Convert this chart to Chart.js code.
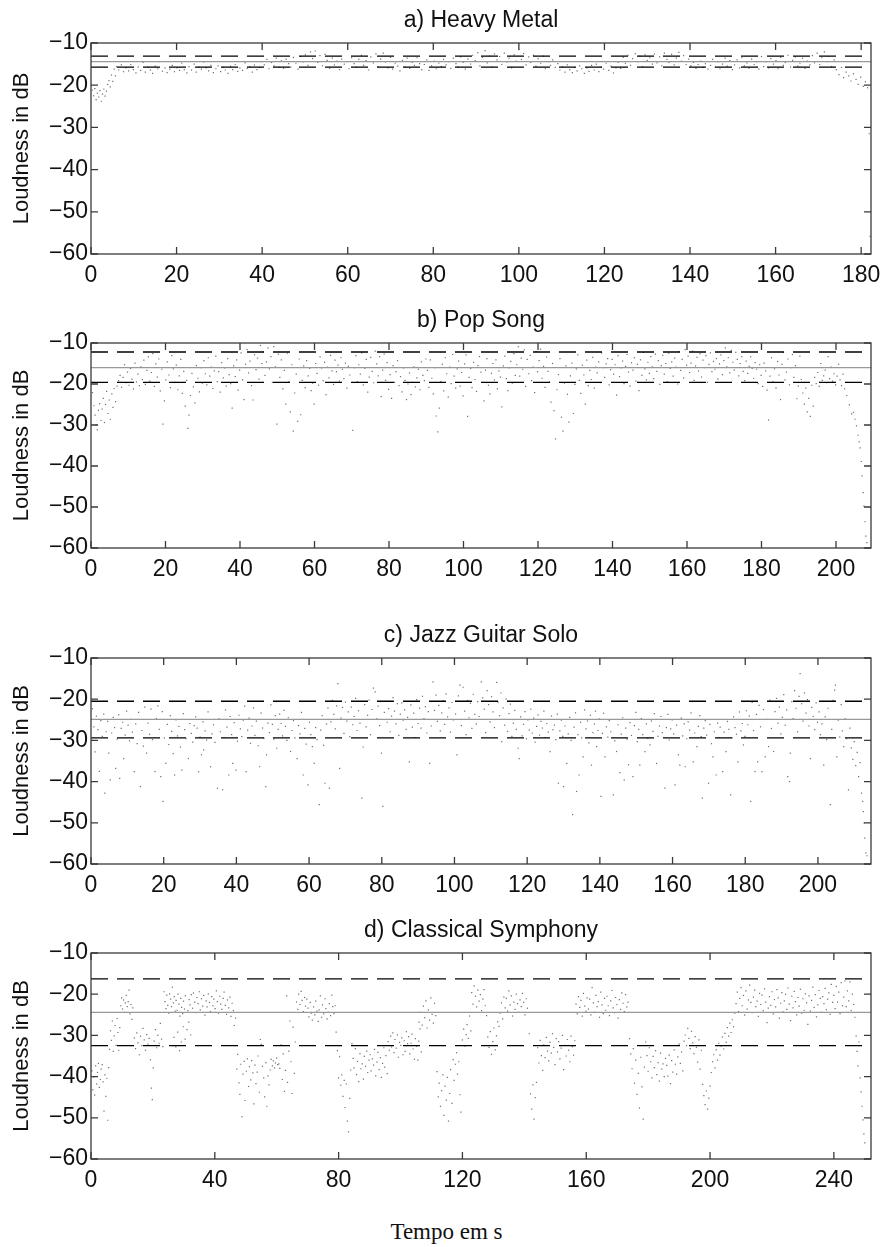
<!DOCTYPE html>
<html>
<head>
<meta charset="utf-8">
<script src="https://cdn.jsdelivr.net/npm/chart.js@4.4.0/dist/chart.umd.min.js"></script>
<style>
body { margin: 0; background: #fff; }
#page { position: relative; width: 884px; height: 1247px; }
.panel { position: absolute; left: 0; width: 884px; }
#xlabel { position: absolute; left: 340px; width: 213px; top: 1220px; text-align: center;
  font: 23px/23px "Liberation Serif", "Times New Roman", serif; color: #111; }
</style>
</head>
<body>
<div id="page">
  <div class="panel" style="top:0px;height:289px"><canvas id="c0"></canvas></div>
  <div class="panel" style="top:300px;height:283px"><canvas id="c1"></canvas></div>
  <div class="panel" style="top:615px;height:284px"><canvas id="c2"></canvas></div>
  <div class="panel" style="top:910px;height:284px"><canvas id="c3"></canvas></div>
  <div id="xlabel">Tempo em s</div>
</div>
<script>
// panel settings
const panelTitles = ['a) Heavy Metal', 'b) Pop Song', 'c) Jazz Guitar Solo', 'd) Classical Symphony'];
const xMaxima = [182.3, 209.4, 214.6, 252];
const xSteps = [20, 20, 20, 40];
const yRange = [-60, -10];

// mean, mean + std, mean - std (dB)
const metalLines = [-14.4, -13.1, -15.7];
const popLines = [-16.0, -12.2, -19.6];
const jazzLines = [-24.9, -20.5, -29.4];
const classicLines = [-24.4, -16.3, -32.5];

// [time s, loudness dB]
const metalPoints = [
[0.3,-21.2],[0.6,-22.5],[0.9,-20.8],[1.2,-23.4],[1.5,-21.9],[1.8,-22.8],[2.1,-21.3],[2.4,-23.8],[2.7,-22.1],[3.0,-20.9],[3.3,-22.6],[3.6,-21.4],[3.9,-19.8],
[4.2,-18.9],[4.5,-20.4],[4.8,-17.6],[5.1,-19.1],[5.4,-16.2],[5.7,-17.8],[6.0,-15.6],
[6.5,-16.4],[7.1,-15.2],[7.6,-16.8],[8.2,-15.9],[8.8,-16.6],[9.3,-15.1],[9.9,-16.3],[10.5,-17.1],[11.0,-15.7],[11.6,-16.5],[12.2,-14.6],[12.7,-16.9],[13.3,-15.8],[13.9,-16.4],[14.4,-17.2],[15.0,-15.5],[15.6,-16.1],[16.1,-14.4],[16.7,-16.7],[17.3,-15.9],[17.8,-17.0],[18.4,-16.2],[19.0,-15.3],[19.5,-16.8],[20.1,-15.9],[20.7,-16.5],[21.2,-14.8],[21.8,-16.3],[22.4,-17.1],[22.9,-15.6],[23.5,-16.4],[24.1,-15.0],[24.6,-16.9],[25.2,-15.7],[25.8,-16.2],[26.3,-14.5],[26.9,-15.9],[27.5,-16.6],[28.0,-15.3],[28.6,-17.0],[29.2,-16.1],[29.7,-15.4],[30.3,-16.8],[30.9,-15.8],[31.4,-16.4],[32.0,-17.2],[32.6,-15.5],[33.1,-16.3],[33.7,-15.1],[34.3,-16.7],[34.8,-15.9],[35.4,-16.5],[36.0,-14.7],[36.5,-16.0],[37.1,-15.6],[37.7,-16.9],[38.2,-15.2],[38.8,-16.3],[39.4,-15.8],[39.9,-14.4],
[40.5,-15.2],[41.1,-13.9],[41.6,-16.1],[42.2,-14.6],[42.8,-15.4],[43.3,-13.6],[43.9,-15.8],[44.5,-14.2],[45.0,-16.0],[45.6,-13.8],[46.2,-14.9],[46.7,-15.7],[47.3,-13.4],[47.9,-14.8],[48.4,-16.2],[49.0,-13.2],[49.6,-14.5],[50.1,-12.8],[50.7,-15.3],[51.3,-12.1],[51.8,-13.7],[52.4,-11.9],[53.0,-14.6],[53.5,-13.0],[54.1,-15.4],[54.7,-12.7],[55.2,-14.1],[55.8,-16.0],[56.4,-13.6],[56.9,-15.2],[57.5,-14.3],[58.1,-16.3],[58.6,-13.8],[59.2,-15.0],[59.8,-14.4],
[60.3,-16.1],[60.9,-13.5],[61.5,-14.9],[62.0,-15.8],[62.6,-13.9],[63.2,-12.9],[63.7,-15.3],[64.3,-14.2],[64.9,-16.4],[65.4,-13.3],[66.0,-14.7],[66.6,-12.6],[67.1,-15.6],[67.7,-13.8],[68.3,-12.4],[68.8,-14.5],[69.4,-15.9],[70.0,-13.4],[70.5,-16.2],[71.1,-14.8],[71.7,-15.5],[72.2,-16.6],[72.8,-14.1],[73.4,-15.7],[73.9,-13.6],[74.5,-16.0],[75.1,-14.6],[75.6,-15.3],[76.2,-13.5],[76.8,-14.9],[77.3,-16.3],[77.9,-15.1],[78.5,-14.0],[79.0,-16.5],[79.6,-15.4],
[80.2,-14.3],[80.7,-16.1],[81.3,-14.8],[81.9,-15.6],[82.4,-13.9],[83.0,-15.2],[83.6,-14.4],[84.1,-16.0],[84.7,-13.6],[85.3,-14.9],[85.8,-15.7],[86.4,-13.3],[87.0,-14.6],[87.5,-16.2],[88.1,-13.8],[88.7,-15.0],[89.2,-12.9],[89.8,-14.2],[90.4,-12.3],[90.9,-15.4],[91.5,-13.4],[92.1,-11.8],[92.6,-14.7],[93.2,-13.1],[93.8,-15.8],[94.3,-12.6],[94.9,-14.0],[95.5,-13.2],[96.0,-15.1],[96.6,-12.4],[97.2,-14.5],[97.7,-13.6],[98.3,-15.9],[98.9,-12.8],[99.4,-14.3],
[100.0,-11.6],[100.6,-13.9],[101.1,-12.5],[101.7,-15.2],[102.3,-13.3],[102.8,-14.6],[103.4,-12.9],[104.0,-15.5],[104.5,-13.7],[105.1,-14.8],[105.7,-13.1],[106.2,-16.1],[106.8,-14.4],[107.4,-15.3],[107.9,-14.0],[108.5,-15.8],[109.1,-14.9],[109.6,-16.4],
[110.2,-15.6],[110.8,-16.9],[111.3,-15.2],[111.9,-16.3],[112.5,-17.0],[113.0,-15.8],[113.6,-16.6],[114.2,-15.4],[114.7,-16.1],[115.3,-17.2],[115.9,-15.9],[116.4,-16.7],[117.0,-15.3],[117.6,-16.4],[118.1,-15.0],[118.7,-16.8],[119.3,-15.7],[119.8,-16.2],[120.4,-14.8],[121.0,-16.5],[121.5,-15.5],[122.1,-17.1],[122.7,-15.9],[123.2,-14.6],[123.8,-16.0],
[124.4,-13.4],[124.9,-14.8],[125.5,-12.9],[126.1,-15.3],[126.6,-13.7],[127.2,-12.5],[127.8,-14.4],[128.3,-13.1],[128.9,-15.6],[129.5,-12.8],[130.0,-14.1],[130.6,-13.5],[131.2,-15.0],[131.7,-12.6],[132.3,-14.7],[132.9,-13.3],[133.4,-15.4],[134.0,-12.4],[134.6,-13.9],[135.1,-14.6],[135.7,-12.7],[136.3,-15.2],[136.8,-13.6],[137.4,-12.2],[138.0,-14.3],[138.5,-13.0],[139.1,-15.1],[139.7,-13.8],
[140.2,-15.4],[140.8,-14.6],[141.4,-16.0],[141.9,-15.1],[142.5,-14.3],[143.1,-15.8],[143.6,-14.9],[144.2,-16.2],[144.8,-15.3],[145.3,-13.9],[145.9,-15.7],[146.5,-14.5],[147.0,-16.1],[147.6,-15.0],[148.2,-13.6],[148.7,-15.5],[149.3,-14.2],[149.9,-16.3],[150.4,-15.2],[151.0,-14.0],[151.6,-15.9],[152.1,-13.5],[152.7,-15.4],[153.3,-14.7],[153.8,-16.0],[154.4,-13.8],[155.0,-15.1],[155.5,-14.4],[156.1,-16.2],[156.7,-13.2],[157.2,-15.6],[157.8,-14.5],[158.4,-15.9],[158.9,-13.7],[159.5,-15.0],
[160.1,-14.2],[160.6,-16.1],[161.2,-13.4],[161.8,-15.3],[162.3,-14.6],[162.9,-12.9],[163.5,-15.7],[164.0,-14.1],[164.6,-13.3],[165.2,-15.5],[165.7,-14.8],[166.3,-13.6],[166.9,-16.0],[167.4,-14.3],[168.0,-15.2],[168.6,-13.0],[169.1,-14.7],[169.7,-12.4],[170.3,-15.1],[170.8,-13.5],[171.4,-12.1],[172.0,-14.4],[172.5,-13.2],[173.1,-15.6],[173.7,-14.0],
[174.2,-16.3],[174.8,-17.5],[175.4,-15.8],[175.9,-18.2],[176.5,-16.9],[177.1,-17.8],[177.6,-19.0],[178.2,-17.3],[178.8,-18.6],[179.3,-19.8],[179.9,-18.1],[180.5,-20.3],[181.0,-19.2],[181.5,-20.6],[181.9,-31.5],[182.1,-55.8]
];

const popPoints = [
[0.4,-22.1],[0.8,-25.3],[1.1,-27.6],[1.4,-29.9],[1.7,-31.2],[2.0,-26.4],[2.3,-24.8],
[2.7,-28.9],[3.0,-26.1],[3.3,-23.5],[3.6,-29.4],[3.9,-25.0],[4.2,-21.8],[4.6,-27.2],[4.9,-23.9],[5.2,-28.6],[5.6,-22.4],[5.9,-25.7],[6.2,-21.1],[6.6,-24.3],[7.0,-20.5],
[7.4,-19.2],[7.8,-17.9],[8.2,-20.8],[8.6,-18.4],[9.0,-15.3],[9.4,-19.7],[9.8,-17.1],[10.2,-20.3],[10.6,-16.2],[11.0,-18.8],[11.4,-21.2],[11.8,-14.9],[12.2,-19.5],
[12.6,-17.6],[13.0,-20.4],[13.4,-15.8],[13.8,-18.9],[14.2,-14.2],[14.6,-20.1],[15.0,-16.7],[15.4,-13.4],[15.8,-19.3],[16.2,-17.2],[16.6,-12.6],[17.0,-20.6],[17.4,-15.1],[17.8,-18.3],[18.2,-13.9],[18.6,-21.7],[19.0,-16.4],[19.3,-29.8],[19.7,-24.1],[20.1,-19.0],
[20.5,-14.6],[20.9,-17.8],[21.3,-20.9],[21.7,-13.1],[22.1,-16.3],[22.5,-19.6],[22.9,-15.4],[23.3,-21.4],[23.7,-18.0],[24.1,-14.0],[24.5,-22.3],[24.9,-16.9],[25.3,-25.4],[25.7,-19.1],[26.0,-30.8],[26.3,-27.6],[26.7,-22.8],[27.1,-17.4],[27.5,-20.7],[27.9,-24.6],[28.3,-15.5],[28.7,-18.6],[29.1,-21.9],[29.5,-16.0],
[29.9,-19.8],[30.3,-14.3],[30.7,-17.5],[31.1,-20.2],[31.5,-13.6],[31.9,-18.1],[32.3,-15.9],[32.7,-21.1],[33.1,-16.8],[33.5,-13.2],[33.9,-19.4],[34.3,-17.0],[34.7,-22.0],[35.1,-14.8],[35.5,-18.5],[35.9,-16.1],[36.3,-20.5],[36.7,-13.8],[37.1,-17.7],[37.5,-19.9],[37.9,-25.9],[38.3,-15.6],[38.7,-18.2],[39.1,-14.1],[39.5,-21.5],[39.9,-16.6],
[40.3,-12.4],[40.7,-19.0],[41.1,-23.8],[41.5,-15.2],[41.9,-11.6],[42.3,-17.3],[42.7,-14.4],[43.1,-20.4],[43.5,-23.9],[43.9,-12.9],[44.3,-16.5],[44.7,-13.7],[45.1,-18.8],[45.5,-10.6],[45.9,-15.0],[46.3,-12.2],[46.7,-17.9],[47.1,-14.6],[47.5,-11.2],[47.9,-16.3],[48.3,-13.3],[48.7,-19.6],[49.1,-10.9],[49.5,-15.8],[49.9,-29.8],[50.3,-12.7],
[50.7,-18.4],[51.1,-14.1],[51.5,-21.2],[51.9,-16.7],[52.3,-24.9],[52.7,-12.5],[53.1,-19.5],[53.5,-26.8],[53.9,-15.3],[54.3,-31.5],[54.7,-22.2],[55.1,-17.6],[55.5,-29.1],[55.9,-13.9],[56.3,-27.5],[56.7,-19.1],[57.1,-15.6],[57.5,-20.9],[57.9,-14.3],[58.3,-18.0],[58.7,-16.2],[59.1,-21.6],[59.5,-19.8],[59.9,-24.9],
[60.3,-15.0],[60.7,-17.4],[61.1,-20.3],[61.5,-13.4],[61.9,-16.1],[62.3,-19.2],[62.7,-14.7],[63.1,-22.6],[63.5,-15.9],[63.9,-18.5],[64.3,-13.0],[64.7,-16.8],[65.1,-20.1],[65.5,-14.2],[65.9,-17.0],[66.3,-15.4],[66.7,-19.3],[67.1,-13.6],[67.5,-16.4],[67.9,-18.7],[68.3,-14.9],[68.7,-21.0],[69.1,-15.7],[69.5,-17.8],[70.3,-31.3],
[70.7,-16.0],[71.1,-13.1],[71.5,-19.4],[71.9,-15.3],[72.3,-17.6],[72.7,-12.4],[73.1,-20.2],[73.5,-16.2],[73.9,-14.0],[74.3,-22.0],[74.7,-18.3],[75.1,-13.5],[75.5,-16.9],[75.9,-19.7],[76.3,-12.0],[76.7,-15.1],[77.1,-18.0],[77.5,-13.3],[77.9,-23.1],[78.3,-16.6],[78.7,-12.7],[79.1,-19.1],[79.5,-14.8],[79.9,-21.3],
[80.3,-17.7],[80.7,-23.5],[81.1,-15.5],[81.5,-19.6],[81.9,-17.0],[82.3,-14.3],[82.7,-20.4],[83.1,-18.2],[83.5,-21.9],[83.9,-16.1],[84.3,-19.1],[84.7,-23.8],[85.1,-20.0],[85.5,-17.3],[85.9,-22.6],[86.3,-19.6],[86.7,-15.8],[87.1,-20.7],[87.5,-18.5],[87.9,-16.4],[88.3,-21.4],[88.7,-14.6],[89.1,-17.9],[89.5,-19.2],[89.9,-13.9],
[90.3,-16.7],[90.7,-20.8],[91.1,-14.1],[91.5,-18.6],[91.9,-22.4],[92.3,-16.0],[92.7,-27.8],[93.1,-31.7],[93.5,-25.9],[93.9,-19.4],[94.3,-15.2],[94.7,-21.7],[95.1,-13.6],[95.5,-17.5],[95.9,-23.2],[96.3,-15.9],[96.7,-19.9],[97.1,-12.8],[97.5,-18.1],[97.9,-21.0],[98.3,-16.3],[98.7,-14.4],[99.1,-20.5],[99.5,-17.2],[99.9,-22.9],
[100.3,-15.1],[100.7,-12.9],[101.1,-27.9],[101.5,-18.4],[101.9,-16.2],[102.3,-20.9],[102.7,-14.7],[103.1,-18.9],[103.5,-21.8],[103.9,-15.5],[104.3,-13.3],[104.7,-17.1],[105.1,-19.6],[105.5,-24.1],[105.9,-16.6],[106.3,-13.8],[106.7,-20.3],[107.1,-22.4],[107.5,-17.4],[107.9,-15.0],[108.3,-19.0],[108.7,-14.1],[109.1,-21.2],[109.5,-16.8],[109.9,-18.3],
[110.3,-25.6],[110.7,-15.6],[111.1,-13.2],[111.5,-18.7],[111.9,-21.6],[112.3,-16.1],[112.7,-14.5],[113.1,-19.8],[113.5,-12.6],[113.9,-17.9],[114.3,-15.3],[114.7,-10.9],[115.1,-18.1],[115.5,-13.7],[115.9,-16.4],[116.3,-11.7],[116.7,-20.6],[117.1,-14.0],[117.5,-17.5],[117.9,-13.0],[118.3,-19.2],[118.7,-15.9],[119.1,-22.1],[119.5,-12.1],[119.9,-17.0],
[120.3,-14.3],[120.7,-11.5],[121.1,-18.6],[121.5,-15.7],[121.9,-20.8],[122.3,-13.4],[122.7,-16.9],[123.1,-19.5],[123.5,-24.4],[123.9,-15.0],[124.3,-26.5],[124.7,-33.4],[125.1,-21.4],[125.5,-17.7],[125.9,-13.8],[126.3,-28.1],[126.7,-31.5],[127.1,-19.8],[127.5,-15.6],[127.9,-22.5],[128.3,-29.3],[128.7,-18.0],[129.1,-14.9],[129.5,-27.2],[129.9,-20.1],
[130.3,-16.3],[130.7,-12.9],[131.1,-19.1],[131.5,-22.3],[131.9,-15.4],[132.3,-17.8],[132.7,-24.9],[133.1,-14.2],[133.5,-20.4],[133.9,-16.7],[134.3,-18.9],[134.7,-13.5],[135.1,-21.0],[135.5,-15.9],[135.9,-17.3],[136.3,-14.6],[136.7,-19.7],[137.1,-12.4],[137.5,-16.0],[137.9,-18.4],[138.3,-15.1],[138.7,-13.8],[139.1,-20.2],[139.5,-16.5],[139.9,-14.0],
[140.3,-17.6],[140.7,-15.3],[141.1,-22.7],[141.5,-13.1],[141.9,-18.2],[142.3,-16.1],[142.7,-14.4],[143.1,-19.9],[143.5,-15.7],[143.9,-12.8],[144.3,-17.1],[144.7,-20.5],[145.1,-14.8],[145.5,-16.6],[145.9,-13.6],[146.3,-19.3],[146.7,-15.2],[147.1,-21.6],[147.5,-14.1],[147.9,-17.9],[148.3,-12.3],[148.7,-16.3],[149.1,-19.0],[149.5,-14.7],[149.9,-17.4],
[150.3,-13.3],[150.7,-15.8],[151.1,-18.7],[151.5,-12.7],[151.9,-16.9],[152.3,-14.3],[152.7,-20.1],[153.1,-15.5],[153.5,-13.0],[153.9,-17.6],[154.3,-15.0],[154.7,-19.4],[155.1,-12.5],[155.5,-16.2],[155.9,-14.6],[156.3,-18.1],[156.7,-13.7],[157.1,-15.9],[157.5,-20.0],[157.9,-12.1],[158.3,-16.7],[158.7,-14.0],[159.1,-18.5],[159.5,-11.6],[159.9,-15.4],
[160.3,-13.2],[160.7,-17.2],[161.1,-14.9],[161.5,-12.0],[161.9,-19.1],[162.3,-15.6],[162.7,-13.5],[163.1,-16.8],[163.5,-12.6],[163.9,-18.3],[164.3,-14.2],[164.7,-16.0],[165.1,-13.1],[165.5,-19.6],[165.9,-15.2],[166.3,-12.4],[166.7,-17.0],[167.1,-14.5],[167.5,-16.4],[167.9,-13.8],[168.3,-18.8],[168.7,-15.1],[169.1,-12.9],[169.5,-17.7],[169.9,-14.3],
[170.3,-11.2],[170.7,-15.8],[171.1,-13.6],[171.5,-17.3],[171.9,-11.8],[172.3,-14.7],[172.7,-16.6],[173.1,-12.3],[173.5,-14.0],[173.9,-18.0],[174.3,-15.0],[174.7,-13.3],[175.1,-16.9],[175.5,-19.2],[175.9,-14.4],[176.3,-17.4],[176.7,-15.7],[177.1,-13.4],[177.5,-16.2],[177.9,-18.6],[178.3,-14.8],[178.7,-16.4],[179.1,-19.9],[179.5,-15.3],[179.9,-17.9],
[180.3,-20.6],[180.7,-14.9],[181.1,-16.8],[181.5,-21.5],[181.9,-28.8],[182.3,-18.1],[182.7,-13.6],[183.1,-19.4],[183.5,-16.3],[183.9,-21.0],[184.3,-14.5],[184.7,-17.8],[185.1,-23.8],[185.5,-15.2],[185.9,-12.3],[186.3,-19.0],[186.7,-17.1],[187.1,-13.9],[187.5,-20.2],[187.9,-16.0],[188.3,-12.8],[188.7,-18.4],[189.1,-15.5],[189.5,-23.6],[189.9,-20.5],
[190.3,-13.2],[190.7,-18.9],[191.1,-22.2],[191.5,-24.9],[191.9,-21.0],[192.3,-26.8],[192.7,-23.5],[193.1,-27.9],[193.5,-20.3],[193.9,-25.4],[194.3,-18.4],[194.7,-19.9],[195.1,-17.2],[195.5,-20.6],[195.9,-15.0],[196.3,-19.1],[196.7,-18.0],[197.1,-16.6],[197.5,-19.7],[197.9,-13.3],[198.3,-18.7],[198.7,-15.9],[199.1,-19.3],[199.5,-17.5],[199.9,-20.2],
[200.3,-18.1],[200.7,-15.2],[201.1,-19.0],[201.5,-20.4],[201.9,-17.6],[202.3,-21.2],[202.9,-22.8],[203.6,-25.1],[204.2,-27.3],[204.7,-26.9],[205.1,-28.6],[205.5,-30.2],[205.9,-32.5],[206.2,-34.1],[206.5,-35.6],[206.8,-38.9],[207.0,-42.4],[207.3,-46.5],[207.5,-49.8],[207.8,-53.6],[208.0,-57.1],[208.3,-58.7]
];

const jazzPoints = [
[0.4,-22.3],[0.8,-26.7],[1.1,-32.8],[1.5,-24.1],[1.9,-27.4],[2.3,-37.5],[2.7,-25.2],[3.1,-29.0],[3.5,-23.6],[3.8,-42.8],[4.2,-27.9],[4.6,-25.4],[4.9,-33.1],[5.3,-39.6],[5.7,-28.2],[6.1,-24.4],[6.5,-26.9],[6.8,-36.8],[7.2,-29.7],[7.6,-23.8],[7.9,-39.2],[8.3,-27.1],[8.7,-25.6],[9.0,-34.4],[9.4,-28.7],[9.8,-22.9],
[10.2,-26.3],[10.6,-30.1],[11.0,-24.9],[11.4,-28.0],[11.9,-37.6],[12.3,-26.0],[12.7,-30.8],[13.1,-23.2],[13.6,-41.2],[14.0,-27.6],[14.4,-31.4],[14.8,-21.9],[15.3,-33.1],[15.7,-25.8],[16.1,-28.5],[16.5,-22.4],[16.9,-29.8],[17.3,-20.5],[17.6,-37.6],[18.0,-24.7],[18.4,-21.6],[18.8,-27.3],[19.2,-38.8],[19.6,-23.0],[19.8,-44.8],
[20.2,-29.4],[20.6,-35.6],[21.0,-26.1],[21.4,-31.0],[21.8,-24.0],[22.2,-27.8],[22.6,-33.2],[23.0,-38.4],[23.4,-25.0],[23.8,-28.9],[24.2,-26.6],[24.6,-31.6],[25.0,-37.2],[25.4,-23.5],[25.8,-27.4],[26.2,-29.6],[26.8,-34.4],[27.2,-25.9],[27.6,-28.3],[28.0,-30.4],[28.4,-26.4],[28.8,-24.3],[29.2,-27.0],[29.6,-37.6],
[30.0,-29.2],[30.4,-33.5],[30.8,-25.5],[31.0,-32.3],[31.4,-27.7],[31.8,-29.9],[32.2,-23.1],[32.9,-36.4],[33.3,-28.4],[33.7,-26.2],[34.1,-30.5],[34.8,-41.6],[35.2,-24.8],[35.6,-27.9],[36.2,-42.0],[36.6,-29.3],[37.0,-22.6],[37.4,-26.8],[37.9,-38.4],[38.3,-24.2],[38.7,-28.6],[39.0,-35.6],[39.4,-25.7],[39.9,-37.2],
[40.3,-30.2],[40.7,-23.9],[41.1,-27.2],[41.5,-29.1],[41.9,-25.1],[42.3,-21.7],[42.7,-37.6],[43.1,-27.5],[43.5,-24.6],[43.9,-30.7],[44.3,-26.5],[44.7,-22.1],[45.1,-28.8],[45.5,-25.3],[46.0,-31.3],[46.4,-36.4],[46.8,-23.4],[47.2,-27.0],[47.6,-29.5],[48.1,-41.2],[48.3,-33.5],[48.7,-25.8],[49.1,-28.1],[49.5,-21.4],[49.9,-26.1],
[50.3,-29.7],[50.7,-24.0],[51.1,-31.9],[51.5,-27.3],[51.9,-23.6],[52.3,-25.9],[52.7,-28.9],[53.1,-22.7],[53.5,-26.6],[53.9,-30.0],[54.3,-24.5],[54.9,-32.7],[55.3,-27.6],[55.7,-25.2],[56.1,-29.4],[56.7,-34.4],[57.1,-26.4],[57.5,-28.4],[57.9,-23.2],[58.4,-38.4],[58.8,-27.1],[59.2,-30.9],[59.7,-40.8],
[60.1,-25.6],[60.5,-28.6],[60.9,-31.5],[61.4,-35.6],[61.8,-26.9],[62.2,-29.8],[62.8,-45.6],[63.2,-27.5],[63.6,-24.0],[64.0,-31.2],[64.4,-40.4],[64.8,-26.0],[65.2,-22.1],[65.6,-41.6],[66.0,-25.5],[66.4,-20.3],
[66.8,-23.7],[67.2,-27.2],[67.6,-21.6],[67.9,-16.2],[68.4,-36.8],[68.8,-24.6],[69.2,-22.0],[69.6,-28.3],[70.0,-20.7],[70.4,-25.3],[70.8,-23.1],[71.2,-29.1],[71.6,-21.9],[72.0,-26.2],[72.4,-24.2],[72.8,-19.8],[73.2,-27.6],[73.6,-22.8],[74.0,-25.8],[74.5,-44.0],[74.9,-31.6],[75.3,-21.3],[75.7,-26.7],[76.1,-23.9],[76.5,-20.2],[76.9,-28.6],[77.3,-22.5],[77.7,-17.3],[78.2,-18.2],[78.6,-24.8],[79.0,-21.7],[79.4,-26.4],[79.9,-33.1],
[80.3,-46.0],[80.7,-23.2],[81.1,-20.5],[81.5,-25.6],[81.9,-22.3],[82.3,-27.9],[82.7,-24.1],[83.1,-19.6],[83.5,-22.9],[83.9,-26.0],[84.3,-21.1],[84.7,-28.8],[85.1,-23.6],[85.5,-20.9],[85.9,-25.1],[86.3,-22.6],[86.7,-27.3],[87.1,-24.4],[87.6,-35.2],[88.0,-21.4],[88.4,-26.8],[88.8,-23.4],[89.2,-29.3],[89.6,-20.1],
[90.0,-25.9],[90.4,-22.2],[90.8,-27.0],[91.2,-19.3],[91.6,-24.7],[92.0,-21.8],[92.4,-28.2],[92.8,-23.0],[93.2,-35.6],[93.6,-26.5],[94.1,-15.8],[94.5,-22.7],[94.9,-19.0],[95.3,-25.4],[95.7,-21.5],[96.1,-27.7],[96.5,-23.3],[96.9,-20.4],[97.3,-26.1],[97.7,-18.7],[98.1,-24.3],[98.5,-22.1],[98.9,-28.0],[99.3,-20.8],[99.7,-25.0],
[100.3,-23.6],[100.7,-33.5],[101.1,-19.2],[101.5,-16.6],[101.9,-26.4],[102.4,-17.1],[102.8,-22.9],[103.2,-28.6],[103.6,-20.3],[104.0,-24.5],[104.4,-21.0],[104.8,-27.1],[105.2,-18.8],[105.6,-23.7],[106.0,-26.0],[106.4,-20.6],[106.8,-24.2],[107.4,-15.8],[107.8,-19.7],[108.2,-22.4],[108.6,-28.1],[109.0,-17.9],[109.4,-21.3],[109.8,-25.5],
[110.2,-19.4],[110.6,-23.1],[111.0,-26.9],[111.6,-15.9],[112.0,-20.7],[112.4,-24.0],[112.8,-18.5],[113.0,-30.3],[113.4,-22.1],[113.8,-26.3],[114.2,-20.0],[114.6,-27.8],[115.0,-23.5],[115.4,-21.2],[115.8,-29.0],
[116.2,-25.8],[116.6,-22.7],[117.0,-27.3],[117.5,-31.9],[117.8,-34.4],[118.2,-24.3],[118.6,-28.9],[119.0,-26.1],[119.4,-23.0],[119.8,-29.6],[120.2,-25.0],[120.6,-27.5],[121.0,-22.4],[121.4,-28.2],[121.8,-24.6],[122.2,-30.4],[122.6,-26.6],[123.0,-23.8],[123.4,-28.7],[123.8,-25.4],[124.2,-27.0],[124.6,-22.9],[125.0,-29.3],[125.4,-25.9],[125.8,-28.0],
[126.3,-32.7],[126.7,-24.1],[127.1,-27.4],[127.5,-26.3],[127.9,-29.8],[128.3,-23.6],[128.6,-40.4],[129.0,-27.7],[129.4,-25.1],[129.8,-29.0],[130.0,-41.2],[130.4,-26.5],[130.9,-35.6],[131.3,-28.4],[131.7,-24.4],[132.1,-30.0],[132.5,-48.0],[132.9,-26.8],[133.3,-23.3],[133.6,-42.4],[134.0,-28.6],[134.3,-38.4],[134.7,-25.6],
[135.0,-29.4],[135.4,-34.0],[135.8,-22.6],[136.2,-27.2],[136.6,-25.3],[137.0,-30.6],[137.4,-23.9],[137.7,-36.0],[138.1,-28.1],[138.5,-26.0],[138.8,-22.9],[139.1,-31.5],[139.5,-27.6],[139.9,-24.8],
[140.3,-43.6],[140.7,-28.3],[141.0,-23.4],[141.4,-34.0],[141.8,-26.7],[142.2,-29.2],[142.6,-25.2],[143.0,-27.9],[143.7,-43.2],[144.1,-30.1],[144.6,-32.7],[145.0,-26.2],[145.5,-37.8],[145.9,-28.5],[146.3,-24.5],[146.7,-39.6],[147.1,-27.0],[147.5,-29.7],[147.9,-35.9],[148.3,-25.7],[148.7,-28.8],[149.1,-38.8],[149.5,-26.4],[149.9,-23.2],
[150.3,-30.3],[150.7,-27.3],[151.0,-36.0],[151.4,-24.7],[151.8,-28.6],[152.4,-32.7],[152.8,-26.0],[153.2,-29.5],[153.8,-31.1],[154.2,-25.3],[154.6,-27.8],[155.0,-23.5],[155.6,-35.6],[156.0,-29.0],[156.4,-26.5],[156.8,-24.2],[157.2,-28.1],[157.9,-41.6],[158.3,-26.9],[158.7,-23.7],[159.1,-29.9],[159.5,-27.2],[159.9,-25.0],
[160.3,-28.4],[160.7,-40.8],[161.1,-26.3],[161.6,-33.5],[162.0,-36.0],[162.4,-24.6],[162.8,-28.9],[163.2,-26.0],[163.5,-36.4],[163.9,-29.6],[164.3,-25.5],[164.7,-27.5],[165.1,-23.3],[165.7,-35.2],[166.1,-28.2],[166.7,-31.5],[167.1,-26.6],[167.5,-24.0],[167.9,-29.1],[168.2,-44.0],[168.6,-27.0],[169.0,-25.2],[169.4,-28.7],[169.9,-40.4],
[170.3,-26.1],[170.7,-30.8],[171.1,-34.0],[171.5,-27.9],[172.0,-38.4],[172.4,-25.8],[172.8,-29.3],[173.1,-26.8],[173.8,-37.6],[174.2,-28.0],[174.7,-32.7],[175.1,-25.4],[175.5,-27.3],[176.0,-43.2],[176.4,-29.4],[176.8,-24.3],[177.2,-26.9],[177.6,-28.5],[178.0,-35.2],[178.4,-23.1],[178.8,-27.7],[179.2,-25.9],[179.5,-31.1],
[179.9,-29.0],[180.3,-22.8],[180.7,-26.2],[181.1,-24.1],[181.5,-44.8],[181.9,-20.8],[182.3,-27.6],[182.7,-37.6],[183.1,-23.7],[183.4,-35.2],[183.8,-21.5],[184.2,-26.7],[184.6,-37.6],[185.0,-22.5],[185.5,-34.0],[185.9,-24.9],[186.4,-31.5],[186.8,-20.2],[187.2,-27.1],[187.8,-32.7],[188.2,-23.0],[188.6,-19.8],[189.0,-25.8],[189.4,-21.9],[189.8,-28.4],
[190.2,-24.4],[190.6,-18.9],[191.0,-26.3],[191.4,-22.6],[191.7,-38.8],[192.2,-40.0],[192.4,-33.1],[192.8,-20.6],[193.2,-24.7],[193.6,-17.9],[194.0,-22.2],[194.4,-27.9],[194.8,-19.3],[195.1,-13.8],[195.5,-21.1],[195.9,-25.3],[196.3,-18.5],[196.7,-23.4],[197.1,-20.1],[197.5,-26.5],[197.9,-34.4],[198.3,-22.0],[198.7,-24.2],[199.1,-27.4],[199.5,-20.9],[199.9,-25.6],
[200.3,-23.1],[200.7,-28.6],[201.1,-26.0],[201.6,-36.0],[202.0,-24.3],[202.4,-29.8],[202.8,-22.2],[203.4,-45.6],[203.8,-27.3],[204.2,-20.3],[204.6,-17.8],[204.8,-16.6],[205.2,-34.0],[205.6,-25.1],[206.0,-29.2],[206.4,-21.3],[206.7,-27.7],[207.1,-31.5],[207.5,-24.8],[207.9,-29.6],[208.4,-42.0],[208.8,-27.0],[209.2,-31.8],[209.6,-34.6],
[210.0,-30.3],[210.4,-36.1],[210.8,-32.9],[211.2,-38.8],[211.6,-35.4],[212.0,-42.8],[212.3,-44.8],[212.5,-47.3],[212.7,-50.0],[212.9,-53.7],[213.2,-57.3],[213.5,-58.0]
];

const classicPoints = [
[0.3,-38.6],[0.6,-43.2],[0.9,-40.1],[1.2,-44.5],[1.5,-37.4],[1.8,-41.8],[2.1,-39.0],[2.4,-36.8],[2.7,-42.6],[3.0,-40.7],[3.3,-38.2],[3.6,-37.1],[3.9,-41.3],[4.2,-48.4],[4.5,-39.6],[4.8,-44.8],[5.1,-40.4],[5.4,-50.6],[5.7,-37.8],
[6.0,-33.4],[6.3,-28.9],[6.6,-31.2],[6.9,-26.5],[7.2,-33.9],[7.5,-30.1],[7.8,-27.6],[8.1,-32.4],[8.4,-25.9],[8.7,-29.3],[9.0,-33.6],[9.3,-28.1],
[9.6,-22.8],[9.9,-20.9],[10.2,-23.6],[10.5,-21.4],[10.8,-24.4],[11.1,-22.1],[11.4,-20.3],[11.7,-23.0],[12.0,-21.8],[12.3,-19.0],[12.6,-24.8],[12.9,-22.5],[13.2,-26.1],[13.5,-23.3],
[14.0,-30.6],[14.4,-33.2],[14.8,-29.4],[15.2,-31.8],[15.6,-34.7],[16.0,-30.2],[16.4,-32.5],[16.8,-28.3],[17.2,-31.1],[17.6,-33.6],[18.0,-29.8],[18.4,-32.1],[18.8,-30.7],[19.2,-35.9],[19.5,-42.8],[19.8,-45.6],[20.1,-37.9],[20.4,-31.4],[20.8,-28.6],[21.2,-33.0],[21.6,-30.0],[22.0,-31.9],[22.4,-27.1],[22.8,-30.9],[23.2,-32.7],
[23.6,-19.4],[23.9,-21.8],[24.2,-23.5],[24.5,-20.2],[24.8,-22.7],[25.1,-24.6],[25.4,-19.9],[25.7,-21.2],[26.0,-23.0],[26.3,-18.3],[26.6,-22.1],[26.9,-20.6],[27.2,-24.1],[27.5,-21.5],[27.8,-23.9],[28.1,-20.0],[28.4,-22.4],[28.7,-25.3],[29.0,-21.0],[29.3,-23.2],[29.6,-24.7],[29.9,-21.7],[30.2,-23.6],[30.5,-20.4],
[26.8,-30.5],[27.4,-32.8],[28.0,-29.2],[28.6,-33.7],[29.2,-31.6],[29.8,-27.9],[30.4,-30.9],[31.0,-28.6],[31.6,-26.8],[32.2,-29.9],
[31.3,-24.0],[31.7,-21.3],[32.0,-22.6],[32.4,-20.1],[32.8,-23.4],[33.1,-19.7],[33.5,-21.9],[33.9,-24.5],[34.2,-20.8],[34.6,-22.3],[35.0,-19.4],[35.3,-23.8],[35.7,-21.1],[36.1,-22.9],[36.4,-20.3],[36.8,-25.1],[37.2,-21.6],[37.5,-23.1],[37.9,-19.9],[38.3,-22.0],[38.6,-24.2],[39.0,-20.6],[39.4,-22.8],[39.7,-21.2],
[40.1,-23.5],[40.5,-19.2],[40.8,-21.8],[41.2,-24.6],[41.6,-20.5],[41.9,-22.4],[42.3,-23.7],[42.7,-21.0],[43.0,-19.5],[43.4,-22.7],[43.8,-24.9],[44.1,-21.4],[44.5,-23.3],[44.9,-20.7],[45.2,-25.4],[45.6,-22.2],[46.0,-24.0],[46.3,-27.6],[46.7,-25.8],
[47.1,-38.2],[47.4,-34.6],[47.8,-41.5],[48.1,-44.3],[48.4,-37.0],[48.8,-49.7],[49.1,-39.4],[49.5,-36.3],[49.8,-45.8],[50.2,-38.7],[50.5,-35.7],[50.9,-42.4],[51.2,-37.6],[51.6,-40.8],[51.9,-36.1],[52.3,-39.1],[52.6,-46.6],[53.0,-37.2],[53.3,-41.7],[53.7,-38.9],[54.0,-35.0],[54.4,-43.8],[54.7,-31.0],[55.0,-32.2],
[55.4,-37.5],[55.8,-40.3],[56.1,-44.9],[56.5,-36.6],[56.8,-47.2],[57.2,-39.8],[57.5,-42.0],[57.9,-38.4],[58.2,-35.8],[58.6,-37.4],[58.9,-36.2],[59.3,-37.9],[59.6,-36.7],[60.0,-35.5],[60.3,-37.1],[60.7,-36.9],[61.0,-38.0],
[61.4,-32.3],[61.8,-40.7],[62.1,-34.5],[62.5,-43.6],[62.8,-38.5],[63.2,-20.4],[63.5,-41.4],[63.9,-33.8],[64.3,-26.5],[64.6,-36.4],[65.0,-44.1],[65.3,-28.0],[65.7,-39.2],[66.0,-31.6],
[66.4,-21.9],[66.8,-23.7],[67.1,-20.0],[67.5,-22.5],[67.9,-19.3],[68.2,-21.5],[68.6,-24.2],[69.0,-20.8],[69.3,-22.9],[69.7,-21.2],[70.1,-23.4],[70.4,-25.5],[70.8,-22.0],[71.2,-24.6],[71.5,-26.3],[71.9,-23.1],[72.3,-25.0],[72.6,-21.7],[73.0,-24.1],[73.4,-26.6],[73.7,-23.8],[74.1,-20.4],[74.5,-25.6],[74.8,-22.6],[75.2,-24.8],[75.6,-21.1],[75.9,-23.5],[76.3,-26.0],[76.7,-24.4],[77.0,-22.3],[77.4,-25.2],[77.8,-20.2],[78.1,-23.0],[78.5,-24.7],[78.9,-22.8],[79.2,-29.2],
[79.6,-33.7],[80.0,-40.3],[80.3,-35.2],[80.7,-42.1],[81.0,-39.6],[81.4,-44.8],[81.8,-40.9],[82.1,-47.5],[82.5,-41.8],[82.8,-50.8],[83.2,-53.4],[83.6,-45.3],[83.9,-38.4],[84.3,-32.0],
[84.7,-35.6],[85.0,-37.9],[85.4,-33.2],[85.8,-39.5],[86.1,-36.3],[86.5,-41.2],[86.9,-34.4],[87.2,-38.1],[87.6,-36.9],[88.0,-40.6],[88.3,-35.1],[88.7,-37.5],[89.1,-33.8],[89.4,-39.0],[89.8,-36.0],[90.2,-34.7],[90.5,-38.6],[90.9,-35.7],[91.3,-37.2],[91.6,-33.4],[92.0,-39.8],[92.4,-36.5],[92.7,-34.1],[93.1,-38.3],[93.5,-35.4],[93.8,-40.2],[94.2,-36.8],[94.6,-33.0],[94.9,-37.7],[95.3,-34.9],[95.7,-39.3],
[96.0,-31.5],[96.4,-33.6],[96.8,-30.2],[97.1,-32.8],[97.5,-29.4],[97.9,-34.2],[98.2,-31.0],[98.6,-33.1],[99.0,-29.9],[99.3,-35.3],[99.7,-31.7],[100.1,-32.4],[100.4,-30.6],[100.8,-34.7],[101.2,-31.3],[101.5,-33.9],[101.9,-29.1],[102.3,-32.0],[102.6,-30.3],[103.0,-34.5],[103.4,-31.9],[103.7,-29.7],[104.1,-33.3],[104.5,-35.8],[104.8,-30.8],[105.2,-32.6],[105.6,-36.0],[105.9,-31.4],[106.3,-28.4],[106.7,-34.0],
[106.0,-26.8],[106.5,-24.4],[107.0,-27.5],[107.4,-22.9],[107.8,-25.7],[108.2,-21.6],[108.6,-28.2],[109.0,-23.8],[109.4,-26.3],[109.8,-20.9],[110.2,-24.9],[110.6,-27.0],[111.0,-22.2],[111.4,-25.2],
[111.8,-38.8],[112.2,-44.9],[112.5,-41.6],[112.9,-47.2],[113.3,-43.4],[113.7,-39.6],[114.0,-49.4],[114.4,-42.3],[114.8,-45.7],[115.1,-40.2],[115.5,-50.8],[115.9,-44.1],[116.2,-38.3],[116.6,-46.5],[117.0,-35.9],[117.3,-40.9],[117.7,-37.0],[118.1,-34.2],[118.4,-39.4],[118.8,-36.4],[119.2,-44.4],[119.5,-48.6],
[120.0,-31.1],[120.4,-28.5],[120.8,-32.6],[121.2,-29.8],[121.5,-27.4],[121.9,-30.7],[122.3,-25.3],[122.7,-28.9],
[123.0,-19.6],[123.4,-22.4],[123.8,-18.0],[124.2,-20.5],[124.6,-23.1],[125.0,-19.0],[125.4,-21.7],[125.8,-20.1],[126.2,-24.0],[126.6,-21.2],[127.0,-18.9],[127.4,-22.8],[127.8,-25.2],
[128.2,-30.4],[128.6,-32.9],[129.0,-29.1],[129.4,-34.6],[129.8,-31.5],[130.2,-28.2],[130.6,-33.5],[131.0,-30.1],[131.4,-26.7],[131.8,-27.8],
[132.2,-24.6],[132.6,-22.1],[133.0,-26.0],[133.4,-20.7],[133.8,-23.3],[134.2,-21.0],[134.6,-24.1],[135.0,-19.2],[135.4,-22.6],[135.8,-20.4],[136.2,-25.3],[136.6,-21.9],[137.0,-23.7],[137.4,-20.0],[137.8,-22.3],[138.2,-24.4],[138.6,-21.4],[139.0,-23.0],[139.4,-19.8],[139.8,-22.0],[140.2,-25.0],[140.6,-21.1],[141.0,-23.4],
[141.6,-29.6],[142.0,-44.2],[142.4,-47.9],[142.8,-42.0],[143.1,-50.3],[143.5,-45.1],[143.9,-41.4],
[144.3,-33.0],[144.7,-36.7],[145.1,-31.2],[145.5,-34.9],[145.9,-38.5],[146.3,-32.3],[146.7,-35.4],[147.1,-30.5],[147.5,-33.8],[147.9,-36.2],[148.3,-31.7],[148.7,-34.3],[149.1,-29.6],[149.5,-32.9],[149.9,-37.1],[150.3,-30.8],[150.7,-34.0],[151.1,-31.5],[151.5,-35.7],[151.9,-33.1],[152.3,-30.0],[152.7,-38.3],[153.1,-32.4],[153.5,-35.0],[153.9,-31.0],[154.3,-33.6],[154.7,-36.4],[155.1,-30.2],[155.5,-32.7],[155.9,-34.8],[156.3,-31.3],
[156.7,-22.4],[157.1,-24.8],[157.5,-20.6],[157.9,-23.2],[158.3,-21.5],[158.7,-25.3],[159.1,-19.8],[159.5,-22.9],[159.9,-24.1],[160.3,-20.9],[160.7,-23.6],[161.1,-21.2],[161.5,-25.0],[161.9,-18.4],[162.3,-22.1],[162.7,-24.4],[163.1,-20.3],[163.5,-23.0],[163.9,-21.8],[164.3,-25.6],[164.7,-19.5],[165.1,-22.6],[165.5,-24.7],[165.9,-21.0],[166.3,-23.9],[166.7,-20.5],[167.1,-22.8],[167.5,-25.2],[167.9,-21.6],[168.3,-19.1],[168.7,-23.3],[169.1,-24.5],[169.5,-20.8],[169.9,-22.5],[170.3,-25.8],[170.7,-21.3],[171.1,-23.7],[171.5,-19.7],[171.9,-22.2],[172.3,-24.2],[172.7,-20.1],[173.1,-23.1],[173.5,-21.9],
[174.0,-30.8],[174.4,-34.5],[174.8,-38.1],[175.2,-33.2],[175.6,-41.6],[176.0,-36.0],[176.4,-44.3],[176.8,-39.2],[177.2,-47.6],[177.6,-35.3],[178.0,-42.5],[178.4,-50.3],[178.8,-37.7],
[179.2,-31.6],[179.6,-34.9],[180.0,-38.7],[180.4,-33.0],[180.8,-36.4],[181.2,-40.3],[181.6,-35.1],[182.0,-37.8],[182.4,-33.7],[182.8,-39.5],[183.2,-36.6],[183.6,-41.1],[184.0,-34.3],[184.4,-38.2],[184.8,-36.9],[185.2,-40.0],[185.6,-35.6],[186.0,-37.3],[186.4,-39.9],[186.8,-34.8],[187.2,-41.7],[187.6,-36.1],[188.0,-38.9],[188.4,-33.5],[188.8,-37.0],[189.2,-39.4],[189.6,-35.2],[190.0,-32.1],[190.4,-36.8],[190.8,-34.0],[191.2,-38.6],[191.6,-31.4],
[192.0,-29.9],[192.4,-32.5],[192.8,-28.3],[193.2,-30.7],[193.6,-33.2],[194.0,-29.0],[194.4,-31.8],[194.8,-34.4],[195.2,-30.3],[195.6,-32.9],[196.0,-36.5],[196.4,-31.1],[196.8,-38.2],[197.2,-33.6],
[197.6,-41.9],[198.0,-44.6],[198.4,-46.8],[198.8,-43.5],[199.2,-47.9],[199.6,-45.2],[200.0,-42.3],[200.4,-39.0],
[200.8,-36.4],[201.2,-34.7],[201.6,-37.9],[202.0,-33.5],[202.4,-36.0],[202.8,-31.9],[203.2,-34.8],[203.6,-32.6],[204.0,-30.4],[204.4,-33.3],[204.8,-29.5],[205.2,-31.7],[205.6,-28.1],[206.0,-30.2],[206.4,-27.0],[206.8,-29.3],[207.2,-26.2],[207.6,-27.9],[208.0,-24.6],
[208.4,-22.3],[208.8,-19.5],[209.2,-24.2],[209.6,-21.0],[210.0,-18.4],[210.4,-22.8],[210.8,-20.3],[211.2,-25.1],[211.6,-19.2],[212.0,-23.6],[212.4,-21.4],[212.8,-17.8],[213.2,-22.0],[213.6,-24.5],[214.0,-20.7],[214.4,-19.0],[214.8,-23.0],[215.2,-21.7],[215.6,-25.4],[216.0,-19.8],[216.4,-22.5],[216.8,-20.2],[217.2,-24.0],[217.6,-18.7],[218.0,-21.9],[218.4,-26.9],[218.8,-23.4],[219.2,-20.6],[219.6,-22.7],
[220.0,-19.4],[220.4,-24.8],[220.8,-21.3],[221.2,-23.1],[221.6,-18.9],[222.0,-20.9],[222.4,-25.8],[222.8,-22.2],[223.2,-19.6],[223.6,-24.3],[224.0,-21.6],[224.4,-20.0],[224.8,-23.7],[225.2,-18.5],[225.6,-22.4],[226.0,-26.4],[226.4,-20.5],[226.8,-23.3],[227.2,-19.3],[227.6,-21.8],[228.0,-25.0],[228.4,-20.8],[228.8,-22.9],[229.2,-18.8],[229.6,-24.6],
[230.0,-21.1],[230.4,-23.9],[230.8,-19.9],[231.2,-22.1],[231.6,-27.3],[232.0,-20.4],[232.4,-24.1],[232.8,-21.5],[233.2,-18.3],[233.6,-23.2],[234.0,-20.1],[234.4,-25.5],[234.8,-22.6],[235.2,-19.1],[235.6,-21.0],[236.0,-24.4],[236.4,-20.6],[236.8,-22.3],[237.2,-18.6],[237.6,-23.8],[238.0,-21.2],[238.4,-19.7],[238.8,-24.9],[239.2,-17.6],[239.6,-22.0],
[240.0,-20.3],[240.4,-23.5],[240.8,-18.1],[241.2,-21.9],[241.6,-19.5],[242.0,-24.7],[242.4,-17.2],[242.8,-22.8],[243.2,-20.7],[243.6,-16.8],[244.0,-23.0],[244.4,-19.2],[244.8,-21.6],[245.2,-17.0],[245.6,-24.0],[246.0,-20.0],[246.4,-22.5],[246.8,-25.6],
[247.2,-30.2],[247.5,-33.9],[247.8,-37.4],[248.1,-31.6],[248.5,-40.3],[248.8,-43.7],[249.1,-47.2],[249.4,-50.5],[249.7,-53.9],[250.0,-56.1]
];

const allPoints = [metalPoints, popPoints, jazzPoints, classicPoints];
const allLines = [metalLines, popLines, jazzLines, classicLines];

Chart.defaults.font.family = '"Liberation Sans", Arial, sans-serif';
Chart.defaults.color = '#111';

// box round the plot with inward ticks on all four sides
const framePlugin = {
    id: 'frame',
    afterDatasetsDraw(chart) {
        const ctx = chart.ctx;
        const a = chart.chartArea;
        const xs = chart.scales.x;
        const ys = chart.scales.y;
        ctx.save();
        ctx.strokeStyle = '#3a3a3a';
        ctx.lineWidth = 1.3;
        ctx.strokeRect(a.left, a.top, a.right - a.left, a.bottom - a.top);
        ctx.beginPath();
        xs.ticks.forEach((t, i) => {
            const px = xs.getPixelForTick(i);
            ctx.moveTo(px, a.bottom); ctx.lineTo(px, a.bottom - 7);
            ctx.moveTo(px, a.top); ctx.lineTo(px, a.top + 7);
        });
        ys.ticks.forEach((t, i) => {
            const py = ys.getPixelForTick(i);
            ctx.moveTo(a.left, py); ctx.lineTo(a.left + 7, py);
            ctx.moveTo(a.right, py); ctx.lineTo(a.right - 7, py);
        });
        ctx.stroke();
        ctx.restore();
    }
};

function hLine(value, xMax, color, dash) {
    return {
        type: 'line',
        data: [{ x: 0, y: value }, { x: xMax, y: value }],
        borderColor: color,
        borderWidth: 1.3,
        borderDash: dash,
        pointRadius: 0,
        showLine: true,
        fill: false
    };
}

function makePanel(i) {
    const xMax = xMaxima[i];
    const lines = allLines[i];
    new Chart(document.getElementById('c' + i), {
        type: 'scatter',
        data: {
            datasets: [
                hLine(lines[1], xMax, '#000', [17, 9]),
                hLine(lines[2], xMax, '#000', [17, 9]),
                hLine(lines[0], xMax, '#999', []),
                {
                    data: allPoints[i].map(p => ({ x: p[0], y: p[1] })),
                    pointStyle: 'rect',
                    pointRadius: 0.85,
                    pointBorderWidth: 0,
                    backgroundColor: '#6e6e6e',
                    borderColor: '#6e6e6e'
                }
            ]
        },
        options: {
            responsive: true,
            maintainAspectRatio: false,
            animation: false,
            layout: { padding: { left: 0, right: 13, top: 0, bottom: 0 } },
            plugins: {
                legend: { display: false },
                tooltip: { enabled: false },
                title: {
                    display: true,
                    fullSize: false,
                    text: panelTitles[i],
                    font: { size: 23, weight: 'normal' },
                    padding: { top: 6.4, bottom: 9.0 }
                }
            },
            scales: {
                x: {
                    type: 'linear',
                    min: 0,
                    max: xMax,
                    grid: { display: false, drawTicks: false },
                    border: { display: false },
                    ticks: { stepSize: xSteps[i], includeBounds: false, font: { size: 23 }, padding: 8, maxRotation: 0 },
                    afterFit(scale) {
                        scale.height = 35;
                        scale.paddingLeft = 0;
                        scale.paddingRight = 0;
                    }
                },
                y: {
                    min: yRange[0],
                    max: yRange[1],
                    grid: { display: false, drawTicks: false },
                    border: { display: false },
                    ticks: {
                        stepSize: 10,
                        font: { size: 23 },
                        padding: 3,
                        callback: v => String(v).replace('-', '\u2212')
                    },
                    title: {
                        display: true,
                        text: 'Loudness in dB',
                        font: { size: 22 },
                        padding: { top: 9, bottom: 0 }
                    },
                    afterFit(scale) {
                        scale.width = 91;
                        scale.paddingTop = 0;
                        scale.paddingBottom = 0;
                    }
                }
            }
        },
        plugins: [framePlugin]
    });
}

[0, 1, 2, 3].forEach(makePanel);
</script>
</body>
</html>
